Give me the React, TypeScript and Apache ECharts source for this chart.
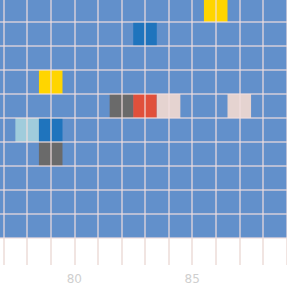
import React, { useEffect, useRef } from "react";
import * as echarts from "echarts";

// Cell data (x value, row index, colour class)
const cellX = [86, 83, 79, 82, 83, 84, 87, 78, 79, 79];
const cellY = [9, 8, 6, 5, 5, 5, 5, 4, 4, 3];
const cellClass = [0, 1, 0, 2, 3, 4, 4, 5, 1, 2];
const classColors = ["#FFD500", "#1F74BD", "#6A6A6A", "#E0503B", "#E5D3D0", "#A0CCDC"];
const xTickLabels = [80, 85];

export default function App() {
  const ref = useRef<HTMLDivElement>(null);
  useEffect(() => {
    if (!ref.current) return;
    const chart = echarts.init(ref.current, null, { renderer: "svg" });
    const data = cellX.map((x, i) => [x, cellY[i], cellClass[i]]);
    const lineColor = "rgba(240,222,222,0.8)";
    chart.setOption({
      animation: false,
      grid: {
        left: 0,
        right: 0,
        top: 0,
        bottom: 51,
        show: true,
        backgroundColor: "#6290CB",
        borderWidth: 0,
      },
      xAxis: {
        type: "value",
        min: 76,
        max: 90,
        interval: 1,
        z: 3,
        axisLine: { show: false },
        axisTick: { show: true, length: 27, lineStyle: { color: "#ecdcd8", width: 1.5 } },
        axisLabel: {
          margin: 35,
          color: "#cfcfcf",
          fontSize: 12,
          fontFamily: "DejaVu Sans",
          formatter: (v: number) => (xTickLabels.indexOf(v) >= 0 ? String(v) : ""),
        },
        splitLine: { show: true, lineStyle: { color: lineColor, width: 1.5 } },
      },
      yAxis: {
        type: "value",
        min: 0,
        max: 10,
        interval: 1,
        z: 3,
        axisLine: { show: false },
        axisTick: { show: false },
        axisLabel: { show: false },
        splitLine: { show: true, lineStyle: { color: lineColor, width: 1.5 } },
      },
      series: [
        {
          type: "custom",
          data,
          renderItem: (params: any, api: any) => {
            const x = api.value(0);
            const y = api.value(1);
            const c = api.value(2);
            const p0 = api.coord([x - 0.5, y + 1]);
            const p1 = api.coord([x + 0.5, y]);
            return {
              type: "rect",
              shape: { x: p0[0], y: p0[1], width: p1[0] - p0[0], height: p1[1] - p0[1] },
              style: { fill: classColors[c] },
            };
          },
        },
      ],
    });
    return () => chart.dispose();
  }, []);
  return (
    <div
      style={{
        position: "absolute",
        left: 0,
        top: 0,
        width: 287,
        height: 289,
        overflow: "hidden",
      }}
    >
      <div
        ref={ref}
        style={{ position: "absolute", left: -23, top: -2, width: 336, height: 291 }}
      />
    </div>
  );
}
